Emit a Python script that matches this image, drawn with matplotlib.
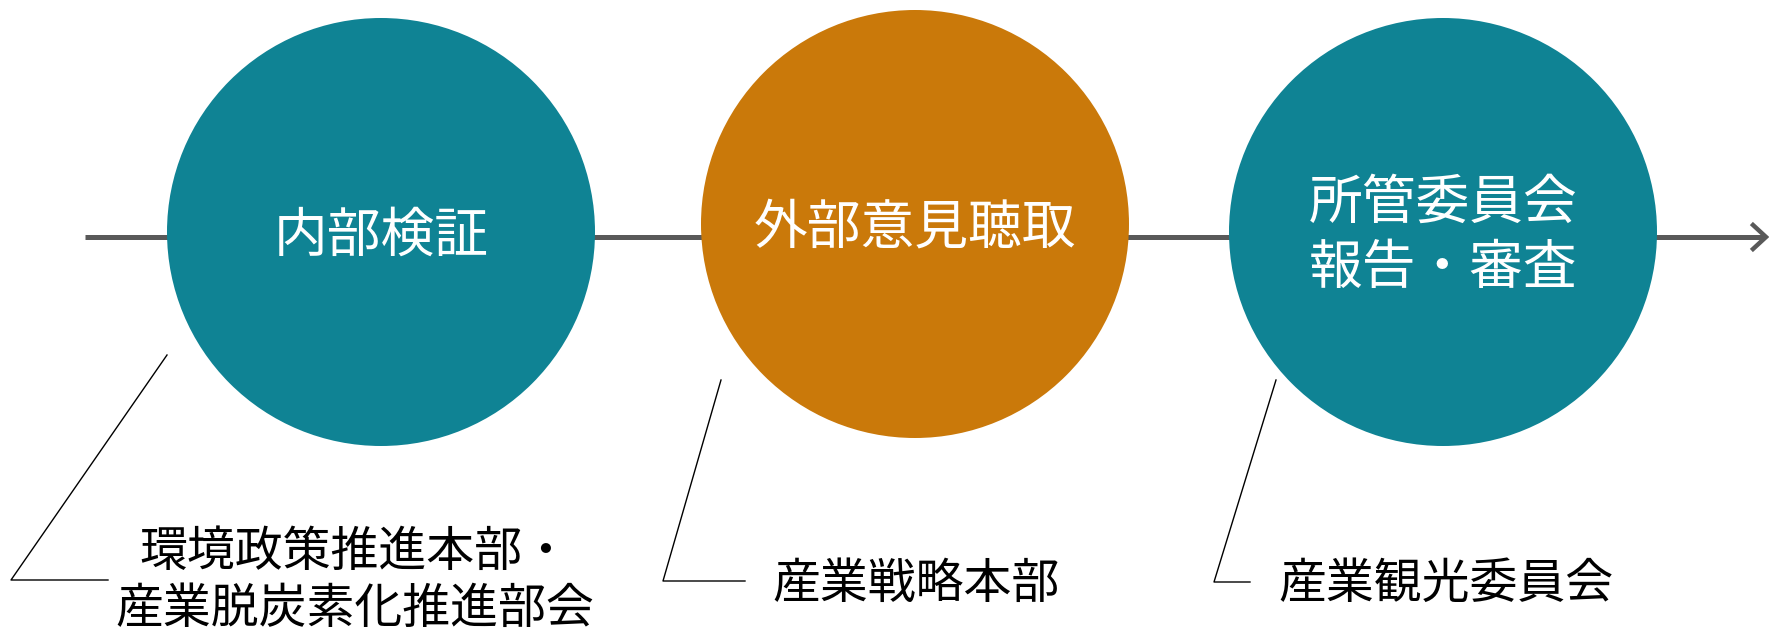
import matplotlib.pyplot as plt
from matplotlib.patches import Circle

plt.rcParams['font.family'] = ['Noto Sans CJK JP', 'DejaVu Sans']

# steps in the flow
steps = ['内部検証', '外部意見聴取', '所管委員会\n報告・審査']
colors = ['#0F8394', '#CA790A', '#0F8394']
centers_x = [381, 915, 1443]
centers_y = [232, 224, 232]
radius = 214

# who does each step
owners = ['環境政策推進本部・\n産業脱炭素化推進部会', '産業戦略本部', '産業観光委員会']
owner_x = [355, 916, 1446]
owner_y = [581, 584, 584]

# callout lines (top of line, bottom corner, end of foot)
call_x = [[167, 11, 108], [721, 663, 745], [1276, 1214, 1250]]
call_y = [[355, 580, 580], [380, 581, 581], [380, 582, 582]]

fig = plt.figure(figsize=(17.69, 6.32), dpi=100)
ax = fig.add_axes([0, 0, 1, 1])
ax.set_xlim(0, 1769)
ax.set_ylim(632, 0)
ax.set_aspect('equal')
ax.axis('off')

# main timeline with open arrow head
line_y = 237
ax.plot([85, 1765], [line_y, line_y], color='#595959', lw=3.6, zorder=1,
        solid_capstyle='butt')
ax.plot([1753, 1766, 1753], [line_y - 12, line_y, line_y + 12],
        color='#595959', lw=3.2, zorder=1, solid_joinstyle='miter')

for i in range(len(steps)):
    ax.add_patch(Circle((centers_x[i], centers_y[i]), radius,
                        facecolor=colors[i], edgecolor='none', zorder=2))
    ax.text(centers_x[i], centers_y[i] + 4, steps[i], color='white',
            fontsize=38.7, ha='center', va='center', linespacing=1.25, zorder=3)
    ax.plot(call_x[i], call_y[i], color='black', lw=1.0, zorder=1)
    ax.text(owner_x[i], owner_y[i], owners[i], color='black', fontsize=34.5,
            ha='center', va='center', linespacing=1.2)

fig.savefig('out.png', dpi=100)
